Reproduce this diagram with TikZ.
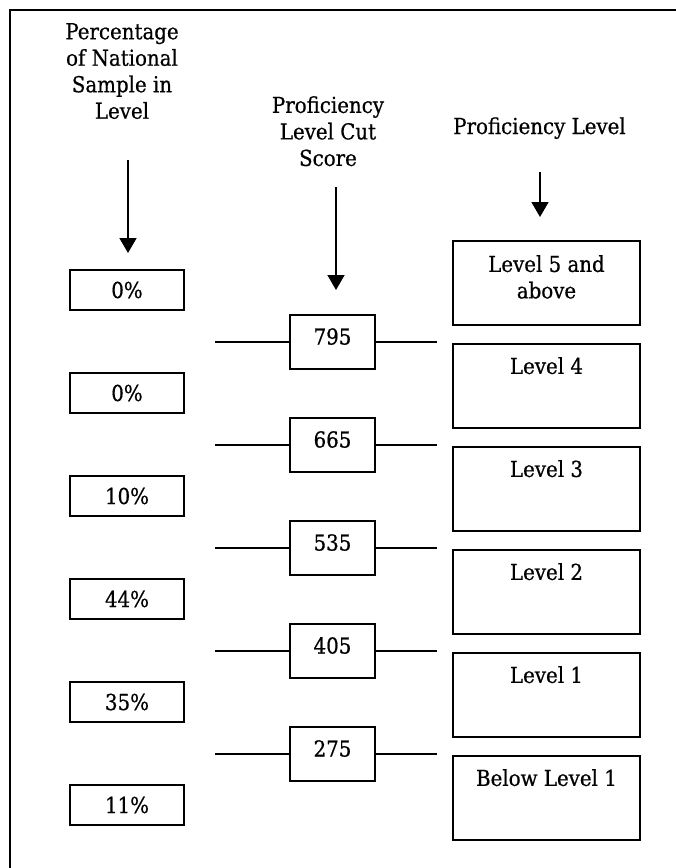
\documentclass[tikz,border=0pt]{standalone}
\usepackage{fontspec}
\setmainfont{DejaVu Serif}[FakeStretch=0.9, FakeBold=0.6]
\usetikzlibrary{arrows.meta}
\begin{document}
\begin{tikzpicture}[x=1pt,y=-1pt,
  every node/.style={font=\fontsize{22}{26.5}\selectfont},
  pctbox/.style={draw, line width=2pt, minimum width=114pt, minimum height=40pt, inner sep=0pt},
  cutbox/.style={draw, line width=2pt, minimum width=85pt, minimum height=54pt, inner sep=0pt},
  lvlbox/.style={draw, line width=2pt, minimum width=187pt, minimum height=84pt, inner sep=0pt},
  toplbl/.style={anchor=north, inner sep=0pt, yshift=-14pt, align=center},
  header/.style={align=center, inner sep=0pt},
  arr/.style={line width=1.5pt, -{Triangle[length=15pt,width=17pt]}},
  tick/.style={line width=1.3pt},
  frame/.style={line width=2.5pt}]
\useasboundingbox (0,0) rectangle (676,868);
\fill[white] (0,0) rectangle (676,868);
\draw[frame] (10,868) -- (10,10) -- (676,10);

% headers
\node[header, anchor=north] (h1) at (122,23) {Percentage\\of National\\Sample in\\Level};
\node[header, anchor=north] (h2) at (328,96) {Proficiency\\Level Cut\\Score};
\node[header, anchor=base] (h3) at (539.5,134) {Proficiency Level};

% percentage boxes
\node[pctbox] (p0) at (127,290) {0\%};
\node[pctbox] (p1) at (127,393) {0\%};
\node[pctbox] (p2) at (127,496) {10\%};
\node[pctbox] (p3) at (127,599) {44\%};
\node[pctbox] (p4) at (127,702) {35\%};
\node[pctbox] (p5) at (127,805) {11\%};

% cut score boxes
\node[cutbox, label={[toplbl]north:795}] (c1) at (332.5,342) {};
\node[cutbox, label={[toplbl]north:665}] (c2) at (332.5,445) {};
\node[cutbox, label={[toplbl]north:535}] (c3) at (332.5,548) {};
\node[cutbox, label={[toplbl]north:405}] (c4) at (332.5,651) {};
\node[cutbox, label={[toplbl]north:275}] (c5) at (332.5,754) {};

\foreach \i/\y in {1/342,2/445,3/548,4/651,5/754}{
  \coordinate (cl\i) at (215,\y);
  \coordinate (cr\i) at (437,\y);
  \draw[tick] (cl\i) -- (c\i.west);
  \draw[tick] (c\i.east) -- (cr\i);
}

% level boxes
\node[lvlbox, label={[toplbl, yshift=-1pt]north:Level 5 and\\above}] (l5) at (546.5,283) {};
\node[lvlbox, label={[toplbl]north:Level 4}] (l4) at (546.5,386) {};
\node[lvlbox, label={[toplbl]north:Level 3}] (l3) at (546.5,489) {};
\node[lvlbox, label={[toplbl]north:Level 2}] (l2) at (546.5,592) {};
\node[lvlbox, label={[toplbl]north:Level 1}] (l1) at (546.5,695) {};
\node[lvlbox, label={[toplbl]north:Below Level 1}] (l0) at (546.5,798) {};

% arrows
\coordinate (a1) at (128,160);
\draw[arr, shorten >=16pt] (a1) -- (a1 |- p0.north);
\coordinate (a2) at (336,187);
\draw[arr, shorten >=24pt] (a2) -- (a2 |- c1.north);
\coordinate (a3) at (540,172);
\draw[arr, shorten >=23pt] (a3) -- (a3 |- l5.north);
\end{tikzpicture}
\end{document}
